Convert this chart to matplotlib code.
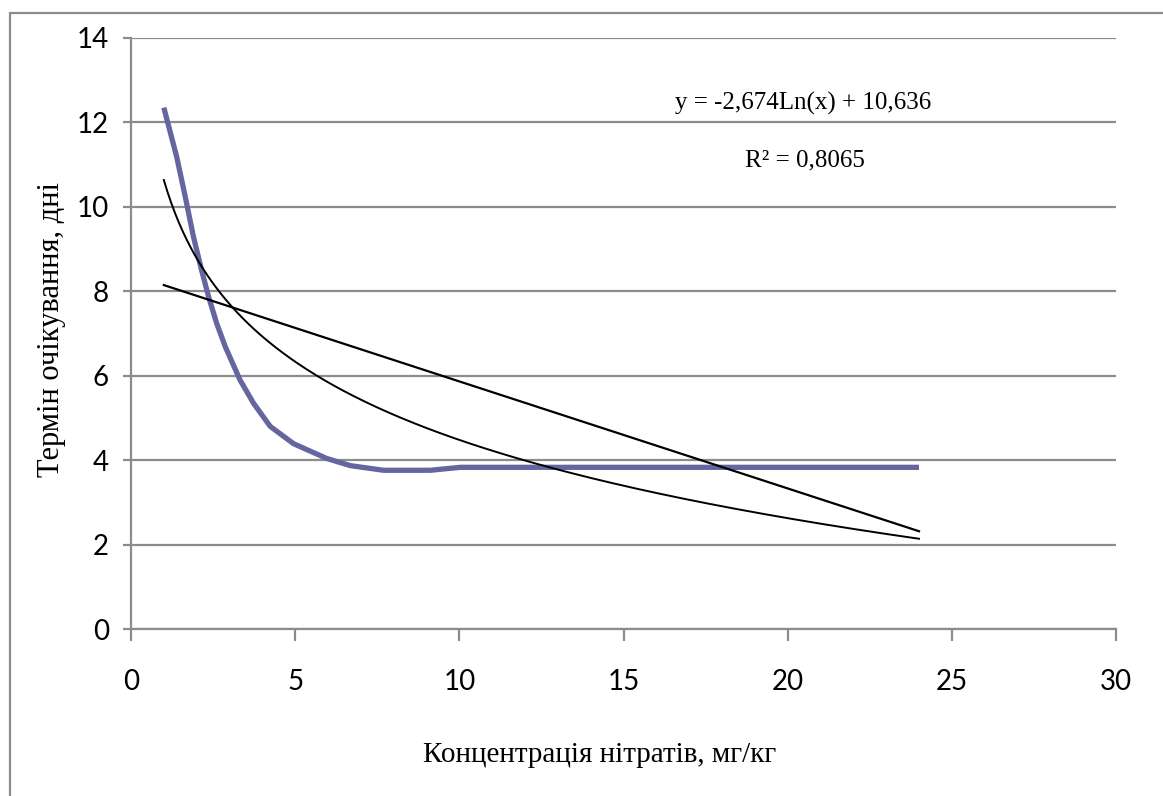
import numpy as np
import matplotlib
matplotlib.use("Agg")
import matplotlib.pyplot as plt
from matplotlib.patches import Rectangle

conc = [1.0, 1.39, 1.65, 1.9, 2.15, 2.36, 2.61, 2.87, 3.32, 3.73, 4.24, 4.95,
        5.96, 6.68, 7.69, 9.12, 10.03, 24]
days = [12.35, 11.19, 10.25, 9.3, 8.5, 7.88, 7.24, 6.69, 5.9, 5.35, 4.8, 4.39,
        4.04, 3.87, 3.76, 3.76, 3.83, 3.83]

# trendlines as printed /
log_coef = (-2.674, 10.636)     # y = a*ln(x) + b
lin_coef = (-0.2535, 8.40)      # y = k*x + c
trend_range = (1, 24)

x_ticks = [0, 5, 10, 15, 20, 25, 30]
y_ticks = [0, 2, 4, 6, 8, 10, 12, 14]

eq_text = "y = -2,674Ln(x) + 10,636"
r2_text = "R² = 0,8065"
xlabel = "Концентрація нітратів, мг/кг"
ylabel = "Термін очікування, дні"

W, H = 1163, 796
GRAY = "#8c8c8c"
sans = ["Liberation Sans Narrow", "Lato", "DejaVu Sans"]
serif = ["Liberation Serif", "DejaVu Serif"]

fig = plt.figure(figsize=(W / 100, H / 100), dpi=100)
ax = fig.add_axes([131 / W, 1 - 629 / H, (1116 - 131) / W, (629 - 38) / H])

# outer chart border (only top and left visible in the picture)
fig.patches.append(Rectangle((10 / W, -0.1), 1.2, 1 - 13 / H + 0.1,
                             transform=fig.transFigure, fill=False,
                             edgecolor=GRAY, linewidth=1.6, zorder=0))

xt = np.linspace(trend_range[0], trend_range[1], 400)
ax.plot(xt, log_coef[0] * np.log(xt) + log_coef[1], color="black", lw=1.4, zorder=3)
ax.plot(trend_range, [lin_coef[0] * v + lin_coef[1] for v in trend_range],
        color="black", lw=1.6, zorder=3)
ax.plot(conc, days, color="#65669f", lw=3.8, solid_capstyle="butt",
        solid_joinstyle="round", zorder=2)

ax.set_xlim(0, 30)
ax.set_ylim(0, 14)
ax.set_xticks(x_ticks)
ax.set_yticks(y_ticks)
ax.grid(axis="y", color=GRAY, lw=1.6)
ax.set_axisbelow(True)
for s in ["top", "right"]:
    ax.spines[s].set_visible(False)
for s in ["left", "bottom"]:
    ax.spines[s].set_color(GRAY)
    ax.spines[s].set_linewidth(1.6)
ax.tick_params(axis="x", length=8.6, width=1.6, color=GRAY, pad=20)
ax.tick_params(axis="y", length=5.8, width=1.6, color=GRAY, pad=10)
for lab in ax.get_xticklabels() + ax.get_yticklabels():
    lab.set_fontfamily(sans)
    lab.set_fontsize(20)

fig.text(600 / W, 1 - 755 / H, xlabel, family=serif, fontsize=21,
         ha="center", va="center")
fig.text(51 / W, 1 - 330 / H, ylabel, family=serif, fontsize=22,
         ha="center", va="center", rotation=90)
fig.text(803 / W, 1 - 103 / H, eq_text, family=serif, fontsize=18,
         ha="center", va="center")
fig.text(805 / W, 1 - 160 / H, r2_text, family=serif, fontsize=18,
         ha="center", va="center")

fig.savefig("out.png", dpi=100)
